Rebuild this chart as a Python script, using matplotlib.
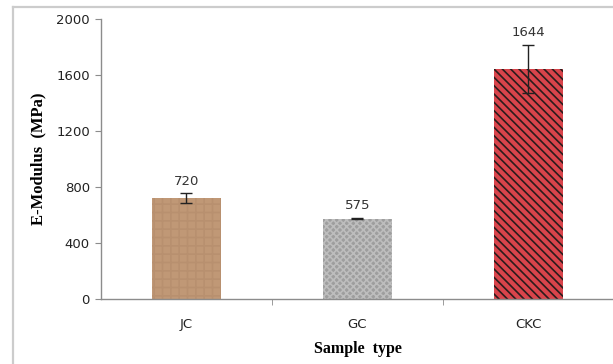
import matplotlib
matplotlib.use("Agg")
import matplotlib.pyplot as plt
from matplotlib.lines import Line2D

categories = ["JC", "GC", "CKC"]
values = [720, 575, 1644]
errors = [35, 6, 172]
value_labels = ["720", "575", "1644"]
yticks = [0, 400, 800, 1200, 1600, 2000]

face_colors = ["#c09876", "#9e9e9e", "#d9444b"]
hatch_colors = ["#b8906f", "#bdbdbd", "#2b1c1c"]
hatches = ["++", "xxxxx", "\\\\\\\\"]

plt.rcParams["hatch.linewidth"] = 1.2

fig = plt.figure(figsize=(6.13, 3.64), dpi=100)
ax = fig.add_axes([101/613, 1-299/364, 513/613, 280/364])

# figure frame (top and left gray lines only)
fx = 13/613
fy = 1 - 7/364
fig.add_artist(Line2D([fx, fx], [0, fy], transform=fig.transFigure,
                      color="#cccccc", linewidth=1.6))
fig.add_artist(Line2D([fx, 1.0], [fy, fy], transform=fig.transFigure,
                      color="#cccccc", linewidth=1.6))

x = list(range(len(categories)))
bars = ax.bar(x, values, width=0.4, color=face_colors, edgecolor=hatch_colors,
              linewidth=0, hatch=hatches, zorder=2)
ax.errorbar(x, values, yerr=errors, fmt="none", ecolor="#222222", elinewidth=1.0,
            capsize=4, capthick=1.0, zorder=3)
for xi, v, e, lab in zip(x, values, errors, value_labels):
    ax.annotate(lab, (xi, v + e), xytext=(0, 4), textcoords="offset points",
                ha="center", va="bottom", fontsize=9.5, color="#333333",
                family="DejaVu Sans")

ax.set_xlim(-0.5, 2.5)
ax.set_ylim(0, 2000)
ax.set_yticks(yticks)
ax.set_yticklabels([str(t) for t in yticks])
ax.set_xticks(x)
ax.set_xticklabels(categories)
ax.set_xticks([0.5, 1.5, 2.5], minor=True)

for s in ["top", "right"]:
    ax.spines[s].set_visible(False)
for s in ["left", "bottom"]:
    ax.spines[s].set_color("#8c8c8c")
    ax.spines[s].set_linewidth(1.0)

ax.tick_params(axis="y", direction="out", length=4, color="#8c8c8c",
               labelsize=9.5, labelcolor="#222222", pad=4)
ax.tick_params(axis="x", which="major", length=0, labelsize=9.5,
               labelcolor="#222222", pad=14)
ax.tick_params(axis="x", which="minor", direction="out", length=4, color="#8c8c8c")

ax.set_ylabel("E-Modulus  (MPa)", family="Liberation Serif", fontweight="bold",
              fontsize=12, labelpad=7)
ax.set_xlabel("Sample  type", family="Liberation Serif", fontweight="bold",
              fontsize=11.5, labelpad=7)

fig.savefig("out.png", dpi=100)
